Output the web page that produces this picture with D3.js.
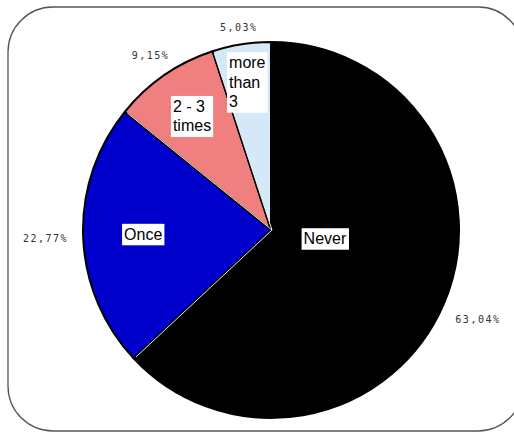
<!DOCTYPE html>
<html><head><meta charset="utf-8">
<script src="https://cdn.jsdelivr.net/npm/d3@7"></script>
<style>body{margin:0;background:#fff}svg{display:block}</style>
</head><body>
<svg id="c" width="514" height="432"></svg>
<script>
// Data
const categories = ["Never", "Once", "2 - 3 times", "more than 3"];
const values = [63.04, 22.77, 9.15, 5.03];
const valueLabels = ["63,04%", "22,77%", "9,15%", "5,03%"];
const labelLines = [["Never"], ["Once"], ["2 - 3", "times"], ["more", "than", "3"]];

// Styles
const colors = ["#000000", "#0000CC", "#F08080", "#D5E8F8"];
const innerLabelRadius = [0.28, 0.68, 0.74, 0.8];
const innerLabelDx = [6, 0, 0, 0];
const innerLabelDy = [-12, 0, 1, 1];
const outerLabelRadius = [1.2, 1.2, 1.13, 1.09];
const W = 514, H = 432;
const cx = 271, cy = 230, R = 188;

const svg = d3.select("#c");
svg.append("rect").attr("x", 8).attr("y", 7).attr("width", 515).attr("height", 424)
  .attr("rx", 45).attr("ry", 45).attr("fill", "#fff").attr("stroke", "#555").attr("stroke-width", 1.3);

const data = categories.map((c, i) => ({cat: c, value: values[i], i}));
const pie = d3.pie().value(d => d.value).sort(null);
const arcs = pie(data);
const arc = d3.arc().innerRadius(0).outerRadius(R);
const g = svg.append("g").attr("transform", `translate(${cx},${cy})`);

g.selectAll("path.slice").data(arcs).enter().append("path")
  .attr("class", "slice").attr("d", arc)
  .attr("fill", d => colors[d.data.i])
  .attr("stroke", "#000").attr("stroke-width", 2).attr("stroke-linejoin", "round");
// thin white separators along radial edges
g.selectAll("path.sep").data(arcs).enter().append("line")
  .attr("x1", 0).attr("y1", 0)
  .attr("x2", d => (R - 2) * Math.sin(d.startAngle))
  .attr("y2", d => -(R - 2) * Math.cos(d.startAngle))
  .attr("stroke", "#fff").attr("stroke-width", 1).attr("transform", "translate(1,0)")
  .attr("opacity", d => d.index === 0 ? 0 : 0.9);

// percentage labels
g.selectAll("text.pct").data(arcs).enter().append("text")
  .attr("class", "pct")
  .attr("transform", d => {
    const r = R * outerLabelRadius[d.data.i];
    return `translate(${d3.arc().innerRadius(r).outerRadius(r).centroid(d)})`;
  })
  .attr("text-anchor", "middle").attr("dy", "0.35em")
  .attr("font-family", "DejaVu Sans Mono, monospace").attr("font-size", 10)
  .attr("letter-spacing", 1.5).attr("fill", "#333")
  .text(d => valueLabels[d.data.i]);

// category labels with white boxes
const lh = 19.5;
arcs.forEach(d => {
  const i = d.data.i;
  const rr = R * innerLabelRadius[i];
  const a = (d.startAngle + d.endAngle) / 2;
  const px = rr * Math.sin(a) + innerLabelDx[i], py = -rr * Math.cos(a) + innerLabelDy[i];
  const lines = labelLines[i];
  const lg = g.append("g").attr("transform", `translate(${px},${py})`);
  const bg = lg.append("rect").attr("fill", "#fff");
  const t = lg.append("text").attr("font-family", "Liberation Sans, Arial, sans-serif")
    .attr("font-size", 16).attr("fill", "#000");
  const h = lines.length * lh;
  lines.forEach((ln, k) => {
    t.append("tspan").attr("x", 0).attr("y", -h / 2 + k * lh + 15).text(ln);
  });
  const bb = t.node().getBBox();
  t.attr("transform", `translate(${-bb.width / 2},0)`);
  bg.attr("x", -bb.width / 2 - 2).attr("y", -h / 2 - 1).attr("width", bb.width + 4).attr("height", h + 2);
});
</script>
</body></html>
